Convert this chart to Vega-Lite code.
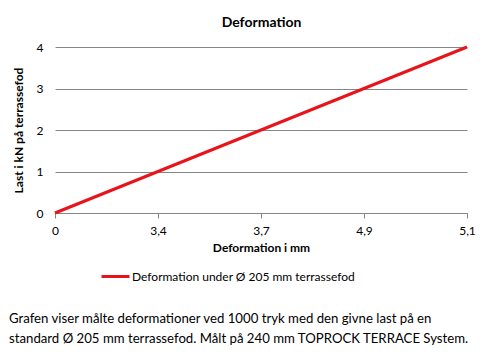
{
  "$schema": "https://vega.github.io/schema/vega-lite/v6.json",
  "width": 490,
  "height": 358,
  "autosize": {"type": "fit", "contains": "padding"},
  "padding": {"left": 9, "right": 14, "top": 15, "bottom": 12},
  "background": "white",
  "config": {"font": "Lato", "view": {"stroke": null}},
  "title": {
    "text": ["Grafen viser målte deformationer ved 1000 tryk med den givne last på en", "standard Ø 205  mm terrassefod. Målt på 240  mm TOPROCK TERRACE System."],
    "orient": "bottom",
    "anchor": "start",
    "frame": "bounds",
    "fontSize": 13.2,
    "fontWeight": "normal",
    "lineHeight": 20,
    "offset": 60,
    "dx": -3,
    "color": "black"
  },
  "data": {
    "values": [
      {"deformation": "0", "last": 0},
      {"deformation": "3,4", "last": 1},
      {"deformation": "3,7", "last": 2},
      {"deformation": "4,9", "last": 3},
      {"deformation": "5,1", "last": 4}
    ]
  },
  "layer": [
    {
      "mark": {"type": "line", "strokeWidth": 3},
      "encoding": {
        "x": {
          "field": "deformation", "type": "ordinal", "sort": null,
          "scale": {"type": "point", "padding": 0},
          "axis": {
            "title": "Deformation i mm", "labelAngle": 0, "domainColor": "#868686", "tickColor": "#868686",
            "tickSize": 5, "labelPadding": 7, "labelFontSize": 12, "labelColor": "black",
            "titleFontSize": 12, "titleFontWeight": "bold", "titleColor": "black", "titlePadding": 6, "grid": false
          }
        },
        "y": {
          "field": "last", "type": "quantitative",
          "scale": {"domain": [0, 4]},
          "axis": {
            "title": "Last i kN på terrassefod", "values": [0, 1, 2, 3, 4], "format": "d",
            "domain": false, "ticks": false, "grid": true, "gridColor": "#868686",
            "labelPadding": 12, "labelFontSize": 12, "labelColor": "black",
            "titleFontSize": 12, "titleFontWeight": "bold", "titleColor": "black", "titlePadding": 11
          }
        },
        "stroke": {
          "datum": "Deformation under Ø 205 mm terrassefod",
          "type": "nominal",
          "scale": {"range": ["#e8141b"]},
          "legend": {
            "title": null, "orient": "none", "legendX": 45, "legendY": 214,
            "symbolType": "stroke", "symbolSize": 784, "symbolStrokeWidth": 3,
            "labelFontSize": 12, "labelColor": "black", "labelOffset": 1, "labelLimit": 0
          }
        }
      }
    },
    {
      "mark": {"type": "line", "opacity": 0},
      "encoding": {
        "x": {
          "field": "deformation", "type": "ordinal", "sort": null,
          "scale": {"type": "point", "padding": 0},
          "axis": {
            "orient": "top", "title": "Deformation", "labels": false, "ticks": false, "domain": false,
            "titleFontSize": 14, "titleFontWeight": "bold", "titleColor": "black", "titlePadding": 18
          }
        },
        "y": {"field": "last", "type": "quantitative"}
      }
    }
  ],
  "resolve": {"axis": {"x": "independent", "y": "shared"}}
}
